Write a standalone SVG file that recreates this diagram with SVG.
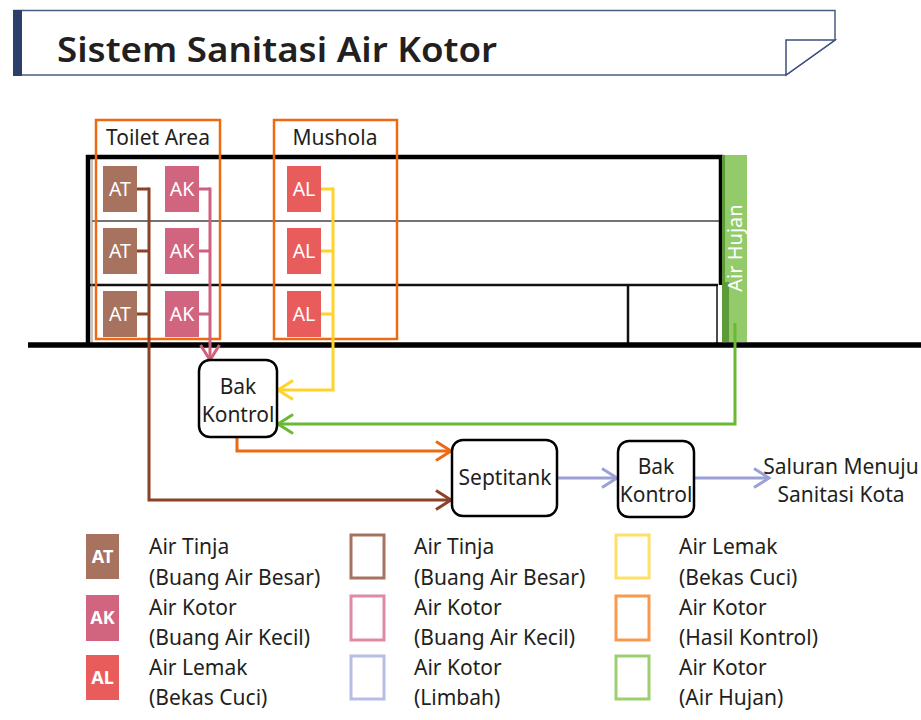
<svg xmlns="http://www.w3.org/2000/svg" width="921" height="720" viewBox="0 0 921 720">
<style>
text{font-family:"Noto Sans","Open Sans","DejaVu Sans",sans-serif;fill:#231f20}
.lbl{font-size:21px}
.ctr{text-anchor:middle}
.box{fill:#fff;stroke:#000;stroke-width:2.5}
.area{fill:none;stroke:#ee6a12;stroke-width:2.5}
.wt{fill:#fff;font-size:19.5px;text-anchor:middle}
.lg{fill:#fff;font-size:18px;font-weight:bold;text-anchor:middle}
.pipe{fill:none;stroke-width:3;stroke-linejoin:miter}
.sq{fill:none;stroke-width:3}
</style>
<defs>
<marker id="aBrown" viewBox="0 0 20 24" refX="18" refY="12" markerWidth="20" markerHeight="24" markerUnits="userSpaceOnUse" orient="auto"><path d="M3 2.5 L18 12 L3 21.5" fill="none" stroke="#8b4226" stroke-width="3"/></marker>
<marker id="aPink" viewBox="0 0 20 24" refX="18" refY="12" markerWidth="20" markerHeight="24" markerUnits="userSpaceOnUse" orient="auto"><path d="M3 2.5 L18 12 L3 21.5" fill="none" stroke="#d0617e" stroke-width="3"/></marker>
<marker id="aYellow" viewBox="0 0 20 24" refX="18" refY="12" markerWidth="20" markerHeight="24" markerUnits="userSpaceOnUse" orient="auto"><path d="M3 2.5 L18 12 L3 21.5" fill="none" stroke="#ffd42a" stroke-width="3"/></marker>
<marker id="aGreen" viewBox="0 0 20 24" refX="18" refY="12" markerWidth="20" markerHeight="24" markerUnits="userSpaceOnUse" orient="auto"><path d="M3 2.5 L18 12 L3 21.5" fill="none" stroke="#6ab934" stroke-width="3"/></marker>
<marker id="aOrange" viewBox="0 0 20 24" refX="18" refY="12" markerWidth="20" markerHeight="24" markerUnits="userSpaceOnUse" orient="auto"><path d="M3 2.5 L18 12 L3 21.5" fill="none" stroke="#ee6a12" stroke-width="3"/></marker>
<marker id="aBlue" viewBox="0 0 20 24" refX="18" refY="12" markerWidth="20" markerHeight="24" markerUnits="userSpaceOnUse" orient="auto"><path d="M3 2.5 L18 12 L3 21.5" fill="none" stroke="#9ba0d6" stroke-width="3"/></marker>
</defs>

<!-- Title banner -->
<g id="title">
<path d="M14 10.5 H835 V40 L786 75 H14 Z" fill="#fff" stroke="#4a5b85" stroke-width="1.5"/>
<path d="M786 40 H835 L786 75 Z" fill="#fff" stroke="#3d4f7c" stroke-width="1.5"/>
<rect x="13" y="10" width="9" height="66" fill="#2c3f6b"/>
<text x="57" y="62" font-size="35" font-weight="600" textLength="440" lengthAdjust="spacingAndGlyphs" fill="#231815">Sistem Sanitasi Air Kotor</text>
</g>

<!-- Building -->
<g id="building">
<line x1="92" y1="221" x2="720" y2="221" stroke="#444" stroke-width="1.5"/>
<line x1="90" y1="285" x2="718" y2="285" stroke="#111" stroke-width="2.5"/>
<line x1="92" y1="159" x2="92" y2="343" stroke="#888" stroke-width="1"/>
<line x1="628" y1="285" x2="628" y2="343" stroke="#111" stroke-width="2.5"/>
<line x1="717" y1="285" x2="717" y2="343" stroke="#111" stroke-width="1.5"/>
<path d="M88 343 V157 H721 V285" fill="none" stroke="#000" stroke-width="4.5"/>
<line x1="28" y1="345" x2="921" y2="345" stroke="#000" stroke-width="5.5"/>
</g>

<g id="air-hujan">
<rect x="722" y="155" width="25" height="187" fill="#93cb6b"/>
<rect x="722" y="155" width="3" height="187" fill="#5d9a38"/>
<rect x="723" y="282" width="6" height="60" fill="#5d9a38"/>
<text x="0" y="0" transform="translate(742 248) rotate(-90)" class="ctr" font-size="20" style="fill:#fff">Air Hujan</text>
</g>

<!-- Areas -->
<g id="toilet-area">
<rect x="96" y="120" width="124" height="219" class="area"/>
<text x="158" y="145" class="lbl ctr">Toilet Area</text>
</g>
<g id="mushola">
<rect x="274" y="120" width="123" height="219" class="area"/>
<text x="335" y="145" class="lbl ctr">Mushola</text>
</g>

<!-- Fixtures -->
<g id="at1"><rect x="103" y="166" width="34" height="46" fill="#a7735f"/><text x="120" y="196" class="wt">AT</text></g>
<g id="at2"><rect x="103" y="228" width="34" height="46" fill="#a7735f"/><text x="120" y="258" class="wt">AT</text></g>
<g id="at3"><rect x="103" y="291" width="34" height="46" fill="#a7735f"/><text x="120" y="321" class="wt">AT</text></g>
<g id="ak1"><rect x="165" y="166" width="34" height="46" fill="#d1647f"/><text x="182" y="196" class="wt">AK</text></g>
<g id="ak2"><rect x="165" y="228" width="34" height="46" fill="#d1647f"/><text x="182" y="258" class="wt">AK</text></g>
<g id="ak3"><rect x="165" y="291" width="34" height="46" fill="#d1647f"/><text x="182" y="321" class="wt">AK</text></g>
<g id="al1"><rect x="287" y="166" width="34" height="46" fill="#e95c5c"/><text x="304" y="196" class="wt">AL</text></g>
<g id="al2"><rect x="287" y="228" width="34" height="46" fill="#e95c5c"/><text x="304" y="258" class="wt">AL</text></g>
<g id="al3"><rect x="287" y="291" width="34" height="46" fill="#e95c5c"/><text x="304" y="321" class="wt">AL</text></g>

<!-- Connectors -->
<g id="connectors">
<path class="pipe" stroke="#8b4226" d="M137 189 H149 M137 251 H149 M137 314 H149"/>
<path class="pipe" stroke="#8b4226" d="M149 187.5 V500 H451" marker-end="url(#aBrown)"/>
<path class="pipe" stroke="#d0617e" d="M199 189 H210 M199 251 H210 M199 314 H210"/>
<path class="pipe" stroke="#d0617e" d="M210 187.5 V360" marker-end="url(#aPink)"/>
<path class="pipe" stroke="#ffd42a" d="M321 189 H333 M321 251 H333 M321 314 H333"/>
<path class="pipe" stroke="#ffd42a" d="M333 187.5 V390 H278" marker-end="url(#aYellow)"/>
<path class="pipe" stroke="#6ab934" d="M735 323 V424 H278" marker-end="url(#aGreen)"/>
<path class="pipe" stroke="#ee6a12" d="M237 437 V451 H451" marker-end="url(#aOrange)"/>
<path class="pipe" stroke="#9ba0d6" d="M557 478 H617" marker-end="url(#aBlue)"/>
<path class="pipe" stroke="#9ba0d6" d="M694 478 H769" marker-end="url(#aBlue)"/>
</g>

<!-- Process nodes -->
<g id="bak-kontrol-1">
<rect x="199" y="360" width="78" height="77" rx="11" class="box"/>
<text x="238" y="394" class="lbl ctr">Bak</text>
<text x="238" y="422" class="lbl ctr">Kontrol</text>
</g>
<g id="septitank">
<rect x="452" y="440" width="105" height="76" rx="11" class="box"/>
<text x="505" y="485" class="lbl ctr">Septitank</text>
</g>
<g id="bak-kontrol-2">
<rect x="618" y="441" width="76" height="76" rx="11" class="box"/>
<text x="656" y="474" class="lbl ctr">Bak</text>
<text x="656" y="502" class="lbl ctr">Kontrol</text>
</g>
<g id="saluran">
<text x="841" y="474" class="lbl ctr">Saluran Menuju</text>
<text x="841" y="502" class="lbl ctr">Sanitasi Kota</text>
</g>

<!-- Legend -->
<g id="legend">
<rect x="86" y="534" width="33" height="45" fill="#a7735f"/><text x="102.5" y="563" class="lg">AT</text>
<rect x="86" y="595" width="33" height="46" fill="#d1647f"/><text x="102.5" y="624" class="lg">AK</text>
<rect x="86" y="655" width="33" height="45" fill="#e95c5c"/><text x="102.5" y="684" class="lg">AL</text>
<text x="149" y="554" class="lbl">Air Tinja</text><text x="149" y="585" class="lbl">(Buang Air Besar)</text>
<text x="149" y="615" class="lbl">Air Kotor</text><text x="149" y="645" class="lbl">(Buang Air Kecil)</text>
<text x="149" y="675" class="lbl">Air Lemak</text><text x="149" y="705" class="lbl">(Bekas Cuci)</text>

<rect x="351" y="535" width="33" height="43" class="sq" stroke="#a57460"/>
<rect x="351" y="596" width="33" height="44" class="sq" stroke="#de8aa2"/>
<rect x="351" y="656" width="33" height="43" class="sq" stroke="#b8bde3"/>
<text x="414" y="554" class="lbl">Air Tinja</text><text x="414" y="585" class="lbl">(Buang Air Besar)</text>
<text x="414" y="615" class="lbl">Air Kotor</text><text x="414" y="645" class="lbl">(Buang Air Kecil)</text>
<text x="414" y="675" class="lbl">Air Kotor</text><text x="414" y="705" class="lbl">(Limbah)</text>

<rect x="616" y="535" width="33" height="43" class="sq" stroke="#ffe066"/>
<rect x="616" y="596" width="33" height="44" class="sq" stroke="#f79a4f"/>
<rect x="616" y="656" width="33" height="43" class="sq" stroke="#9ccf6f"/>
<text x="679" y="554" class="lbl">Air Lemak</text><text x="679" y="585" class="lbl">(Bekas Cuci)</text>
<text x="679" y="615" class="lbl">Air Kotor</text><text x="679" y="645" class="lbl">(Hasil Kontrol)</text>
<text x="679" y="675" class="lbl">Air Kotor</text><text x="679" y="705" class="lbl">(Air Hujan)</text>
</g>
</svg>
